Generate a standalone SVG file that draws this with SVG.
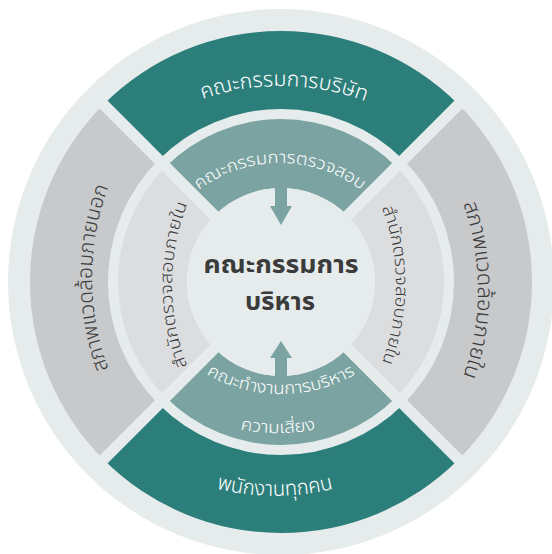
<svg xmlns="http://www.w3.org/2000/svg" width="552" height="554" viewBox="0 0 552 554">
<style>
.bg{fill:#e6ecec}
.teal{fill:#2c7e7a}
.mteal{fill:#7ba3a1}
.gray{fill:#c8c9cb}
.lgray{fill:#dcdddf}
.gap{stroke:#e6ecec;stroke-width:11;fill:none}
.t{font-family:'Noto Sans Thai','Noto Sans',sans-serif;}
.w{fill:#ffffff}
.d{fill:#3b3b3b}
.o{font-size:21px;font-weight:300}
.m{font-size:17px;font-weight:300}
.c{font-size:25px;font-weight:bold}
</style>
<defs>
<path id="pTopO" d="M179.6,108.5 A240,240 0 0 1 382.4,108.5"/>
<path id="pBotO" d="M192.9,481.5 A240,240 0 0 0 357.1,481.5"/>
<path id="pLeftO" d="M116.4,387.9 A260,260 0 0 1 116.4,168.1"/>
<path id="pRightO" d="M453.6,180.1 A260,260 0 0 1 453.6,399.9"/>
<path id="pTopM" d="M176.6,211.2 A135,135 0 0 1 383.4,211.2"/>
<path id="pBotM1" d="M174.9,350.1 A150,150 0 0 0 387.1,350.1"/>
<path id="pBotM2" d="M209.6,421 A200,200 0 0 0 346.4,421"/>
<path id="pLeftM" d="M201.5,395 A220,220 0 0 1 201.5,175"/>
<path id="pRightM" d="M366.5,175 A220,220 0 0 1 366.5,395"/>
</defs>
<circle class="bg" cx="281" cy="282" r="273"/>
<g id="board">
<path class="teal" d="M103.52,104.52 A251,251 0 0 1 458.48,104.52 L403.33,159.67 A173,173 0 0 0 158.67,159.67 Z"/>
<text class="t w o"><textPath href="#pTopO" startOffset="51.5%" text-anchor="middle" textLength="166" lengthAdjust="spacingAndGlyphs">คณะกรรมการบริษัท</textPath></text>
</g>
<g id="employees">
<path class="teal" d="M458.48,459.48 A251,251 0 0 1 103.52,459.48 L158.67,404.33 A173,173 0 0 0 403.33,404.33 Z"/>
<text class="t w o"><textPath href="#pBotO" startOffset="50%" text-anchor="middle" textLength="118" lengthAdjust="spacingAndGlyphs">พนักงานทุกคน</textPath></text>
</g>
<g id="external-environment">
<path class="gray" d="M103.52,459.48 A251,251 0 0 1 103.52,104.52 L158.67,159.67 A173,173 0 0 0 158.67,404.33 Z"/>
<text class="t d o"><textPath href="#pLeftO" startOffset="50%" text-anchor="middle" textLength="186" lengthAdjust="spacingAndGlyphs">สภาพแวดล้อมภายนอก</textPath></text>
</g>
<g id="internal-environment">
<path class="gray" d="M458.48,104.52 A251,251 0 0 1 458.48,459.48 L403.33,404.33 A173,173 0 0 0 403.33,159.67 Z"/>
<text class="t d o"><textPath href="#pRightO" startOffset="50%" text-anchor="middle" textLength="176" lengthAdjust="spacingAndGlyphs">สภาพแวดล้อมภายใน</textPath></text>
</g>
<g id="audit-committee">
<path class="mteal" d="M165.74,166.74 A163,163 0 0 1 396.26,166.74 L347.47,215.53 A94,94 0 0 0 214.53,215.53 Z"/>
<text class="t w m"><textPath href="#pTopM" startOffset="50%" text-anchor="middle" textLength="174" lengthAdjust="spacingAndGlyphs">คณะกรรมการตรวจสอบ</textPath></text>
</g>
<g id="risk-committee">
<path class="mteal" d="M396.26,397.26 A163,163 0 0 1 165.74,397.26 L214.53,348.47 A94,94 0 0 0 347.47,348.47 Z"/>
<text class="t w m"><textPath href="#pBotM1" startOffset="50%" text-anchor="middle" textLength="156" lengthAdjust="spacingAndGlyphs">คณะทำงานการบริหาร</textPath></text>
<text class="t w m"><textPath href="#pBotM2" startOffset="50%" text-anchor="middle" textLength="76" lengthAdjust="spacingAndGlyphs">ความเสี่ยง</textPath></text>
</g>
<g id="internal-audit-left">
<path class="lgray" d="M165.74,397.26 A163,163 0 0 1 165.74,166.74 L214.53,215.53 A94,94 0 0 0 214.53,348.47 Z"/>
<text class="t d m"><textPath href="#pLeftM" startOffset="50%" text-anchor="middle" textLength="166" lengthAdjust="spacingAndGlyphs">สำนักตรวจสอบภายใน</textPath></text>
</g>
<g id="internal-audit-right">
<path class="lgray" d="M396.26,166.74 A163,163 0 0 1 396.26,397.26 L347.47,348.47 A94,94 0 0 0 347.47,215.53 Z"/>
<text class="t d m"><textPath href="#pRightM" startOffset="50%" text-anchor="middle" textLength="158" lengthAdjust="spacingAndGlyphs">สำนักตรวจสอบภายใน</textPath></text>
</g>
<g id="gaps">
<line class="gap" x1="100" y1="101" x2="462" y2="463"/>
<line class="gap" x1="462" y1="101" x2="100" y2="463"/>
</g>
<g id="management-committee">
<circle class="bg" cx="281" cy="282" r="94"/>
<text class="t d c" x="281" y="273" text-anchor="middle" textLength="155" lengthAdjust="spacingAndGlyphs">คณะกรรมการ</text>
<text class="t d c" x="280" y="310" text-anchor="middle" textLength="70" lengthAdjust="spacingAndGlyphs">บริหาร</text>
</g>
<g id="connectors">
<path class="mteal" d="M275,185 L287,185 L287,206 L292,206 L281,225 L270,206 L275,206 Z"/>
<path class="mteal" d="M275,380 L287,380 L287,358 L292,358 L281,341 L270,358 L275,358 Z"/>
</g>
</svg>
